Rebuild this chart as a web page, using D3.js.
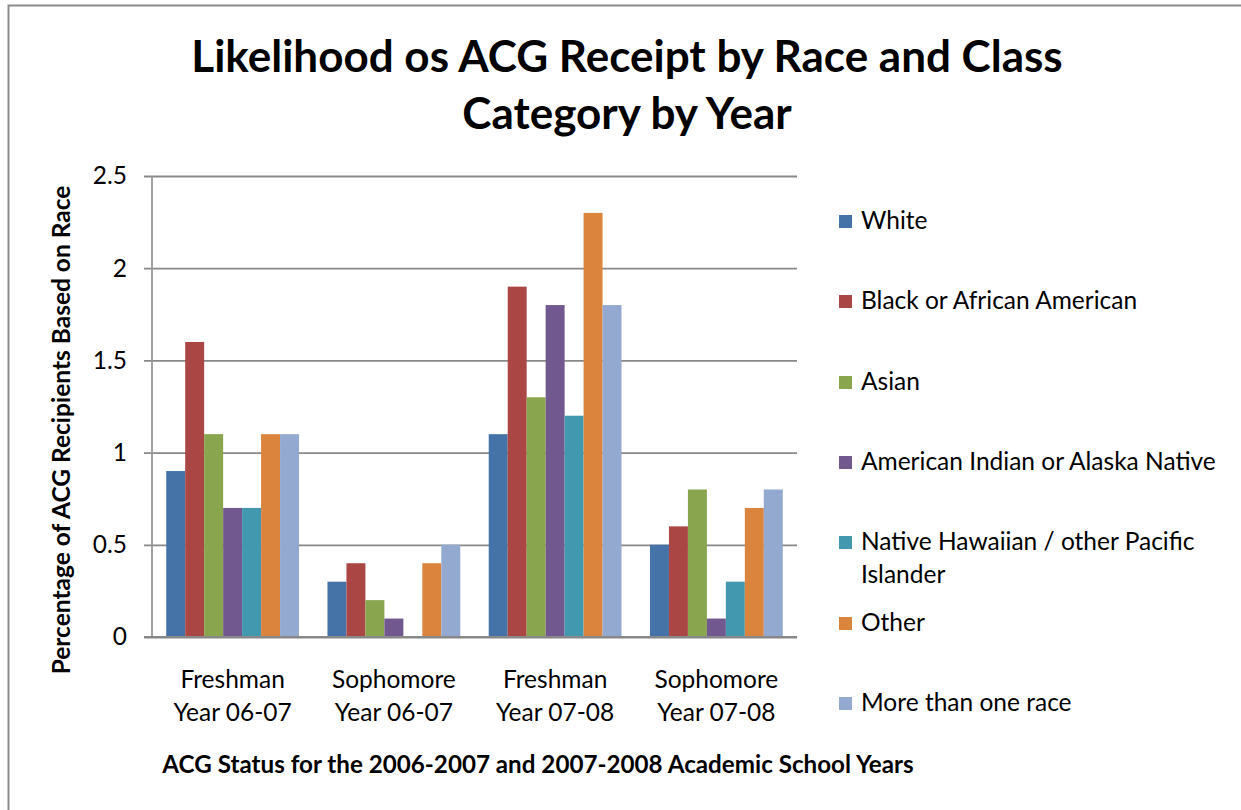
<!DOCTYPE html>
<html>
<head>
<meta charset="utf-8">
<script src="https://cdn.jsdelivr.net/npm/d3@7"></script>
<style>
  html, body { margin: 0; padding: 0; background: #fff; }
  svg { display: block; font-family: Lato, "Open Sans", sans-serif; }
</style>
</head>
<body>
<svg id="chart" width="1241" height="810"></svg>
<script>
// Groups along the x axis (two-line labels)
const categories = [
  "Freshman|Year 06-07",
  "Sophomore|Year 06-07",
  "Freshman|Year 07-08",
  "Sophomore|Year 07-08"
];

const series = [
  "White",
  "Black or African American",
  "Asian",
  "American Indian or Alaska Native",
  "Native Hawaiian / other Pacific Islander",
  "Other",
  "More than one race"
];

// Percentage of ACG recipients, one array per race, in category order
const white        = [0.9, 0.3, 1.1, 0.5];
const black        = [1.6, 0.4, 1.9, 0.6];
const asian        = [1.1, 0.2, 1.3, 0.8];
const amIndian     = [0.7, 0.1, 1.8, 0.1];
const hawaiian     = [0.7, 0.0, 1.2, 0.3];
const other        = [1.1, 0.4, 2.3, 0.7];
const multiRace    = [1.1, 0.5, 1.8, 0.8];
const seriesValues = [white, black, asian, amIndian, hawaiian, other, multiRace];

const yTicks = [0, 0.5, 1, 1.5, 2, 2.5];
const yTickLabels = ["0", "0.5", "1", "1.5", "2", "2.5"];

const colors = ["#4572A7", "#AA4643", "#89A54E", "#71588F", "#4198AF", "#DB843D", "#93A9CF"];

const titleLines = ["Likelihood os ACG Receipt by Race and Class", "Category by Year"];
const yTitle = "Percentage of ACG Recipients Based on Race";
const xTitle = "ACG Status for the 2006-2007 and 2007-2008 Academic School Years";

const svg = d3.select("#chart");

// outer frame
svg.append("rect")
  .attr("x", 8.5).attr("y", 5.5)
  .attr("width", 1300).attr("height", 900)
  .attr("fill", "none").attr("stroke", "#8c8c8c").attr("stroke-width", 2);

const plot = { left: 152, right: 797, top: 176, bottom: 637 };

const y = d3.scaleLinear().domain([0, 2.5]).range([plot.bottom, plot.top]);
const x0 = d3.scaleBand().domain(categories).range([plot.left, plot.right]).padding(0);
const x1 = d3.scaleBand().domain(series).range([0, x0.bandwidth()])
  .paddingInner(0).paddingOuter(0.75);

// gridlines with short ticks left of the axis
const yAxis = d3.axisLeft(y).tickValues(yTicks)
  .tickFormat((d, i) => yTickLabels[i])
  .tickSize(-(plot.right - plot.left)).tickSizeOuter(0).tickPadding(25);

const gy = svg.append("g").attr("transform", `translate(${plot.left},0)`).call(yAxis);
gy.select(".domain").remove();
gy.selectAll(".tick line")
  .attr("x1", -8)
  .attr("stroke", "#888").attr("stroke-width", 1.8);
gy.selectAll(".tick text")
  .attr("font-family", "Lato, sans-serif")
  .attr("font-size", 24.5).attr("fill", "#000");

// vertical axis line
svg.append("line")
  .attr("x1", plot.left).attr("x2", plot.left)
  .attr("y1", plot.top).attr("y2", plot.bottom)
  .attr("stroke", "#999").attr("stroke-width", 1.8);

// bars
const groups = svg.append("g").selectAll("g")
  .data(categories)
  .join("g")
  .attr("transform", d => `translate(${x0(d)},0)`);

groups.selectAll("rect")
  .data((c, ci) => series.map((s, si) => ({ s, si, v: seriesValues[si][ci] })))
  .join("rect")
  .attr("x", d => x1(d.s))
  .attr("width", x1.bandwidth())
  .attr("y", d => y(d.v))
  .attr("height", d => y(0) - y(d.v))
  .attr("fill", d => colors[d.si]);

// baseline drawn over the bars
svg.append("line")
  .attr("x1", plot.left - 8).attr("x2", plot.right)
  .attr("y1", y(0)).attr("y2", y(0))
  .attr("stroke", "#888").attr("stroke-width", 1.8);

// category labels
const catLabels = svg.append("g").selectAll("text")
  .data(categories)
  .join("text")
  .attr("text-anchor", "middle")
  .attr("font-size", 24.5)
  .attr("fill", "#000");
catLabels.each(function (d) {
  const cx = x0(d) + x0.bandwidth() / 2;
  d.split("|").forEach((line, i) => {
    d3.select(this).append("tspan")
      .attr("x", cx).attr("y", 688 + i * 33)
      .text(line);
  });
});

// title
svg.append("g").selectAll("text")
  .data(titleLines)
  .join("text")
  .attr("x", 627).attr("y", (d, i) => 72 + i * 57)
  .attr("text-anchor", "middle")
  .attr("font-size", 44).attr("font-weight", "bold")
  .text(d => d);

// axis titles
svg.append("text")
  .attr("transform", "translate(70,430) rotate(-90)")
  .attr("text-anchor", "middle")
  .attr("font-size", 24.5).attr("font-weight", "bold")
  .text(yTitle);

svg.append("text")
  .attr("x", 538).attr("y", 773)
  .attr("text-anchor", "middle")
  .attr("font-size", 24.2).attr("font-weight", "bold")
  .text(xTitle);

// legend
const legendY = [221, 301, 382, 462, 542, 623, 703];
const legend = svg.append("g").selectAll("g")
  .data(series)
  .join("g")
  .attr("transform", (d, i) => `translate(839,${legendY[i]})`);

legend.append("rect")
  .attr("x", 0).attr("y", -6).attr("width", 13).attr("height", 13)
  .attr("fill", (d, i) => colors[i]);

legend.append("text")
  .attr("font-size", 24.5).attr("fill", "#000")
  .each(function (d) {
    const lines = d === "Native Hawaiian / other Pacific Islander"
      ? ["Native Hawaiian / other Pacific", "Islander"] : [d];
    lines.forEach((line, i) => {
      d3.select(this).append("tspan")
        .attr("x", 22).attr("y", 8 + i * 33)
        .text(line);
    });
  });
</script>
</body>
</html>
